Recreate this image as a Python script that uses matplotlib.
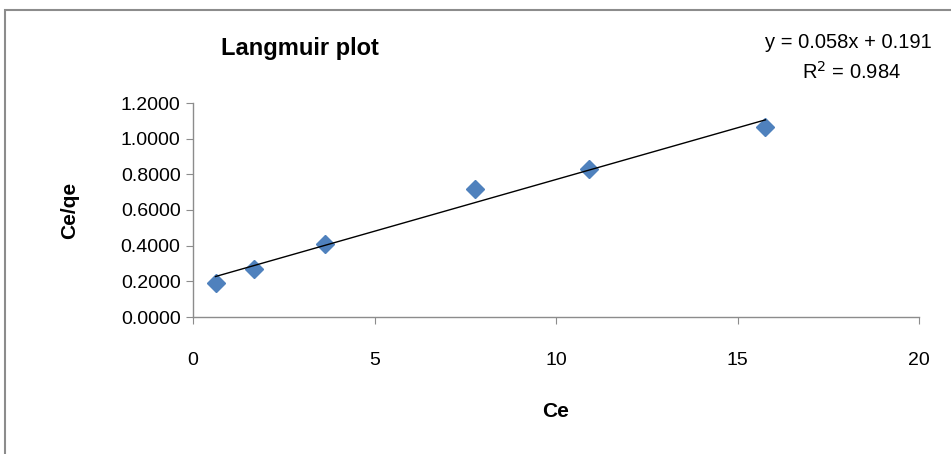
import matplotlib
matplotlib.use("Agg")
import matplotlib.pyplot as plt
from matplotlib.patches import Rectangle
import numpy as np

plt.rcParams['font.family'] = ['Liberation Sans', 'DejaVu Sans']

# Langmuir isotherm data
ce = [0.62, 1.68, 3.65, 7.77, 10.9, 15.77]
ce_qe = [0.189, 0.269, 0.409, 0.720, 0.832, 1.064]

# Linear fit as reported on the chart
slope = 0.058
intercept = 0.191
r2 = 0.984

x_ticks = [0, 5, 10, 15, 20]
y_ticks = [0.0, 0.2, 0.4, 0.6, 0.8, 1.0, 1.2]

fig = plt.figure(figsize=(9.51, 4.54), dpi=100)
fig.patch.set_facecolor('white')

# outer chart frame
fig.add_artist(Rectangle((5 / 951, -0.1), 1.2, 1 - 10 / 454 + 0.1,
                         transform=fig.transFigure, fill=False,
                         edgecolor='#8c8c8c', linewidth=1.5))

ax = fig.add_axes([193 / 951, 1 - 317 / 454, (919 - 193) / 951, (317 - 103) / 454])

ax.plot(ce, ce_qe, linestyle='none', marker='D', markersize=9.5,
        color='#4F81BD', markeredgecolor='#4F81BD', zorder=3)

xf = np.array([min(ce), max(ce)])
ax.plot(xf, slope * xf + intercept, color='black', linewidth=1.0, zorder=4)

ax.set_xlim(0, 20)
ax.set_ylim(0, 1.2)
ax.set_xticks(x_ticks)
ax.set_yticks(y_ticks)
ax.set_xticklabels([str(t) for t in x_ticks])
ax.set_yticklabels([f"{t:.4f}" for t in y_ticks])

for side in ['top', 'right']:
    ax.spines[side].set_visible(False)
for side in ['left', 'bottom']:
    ax.spines[side].set_color('#8c8c8c')
    ax.spines[side].set_linewidth(1.0)

ax.tick_params(axis='both', colors='#8c8c8c', labelcolor='black',
               labelsize=14, length=5, direction='out')
ax.tick_params(axis='x', pad=20)
ax.tick_params(axis='y', pad=4)

ax.set_xlabel('Ce', fontsize=15, fontweight='bold', labelpad=24)
ax.set_ylabel('Ce/qe', fontsize=15, fontweight='bold', labelpad=30)

fig.text(300 / 951, 1 - 48 / 454, 'Langmuir plot', fontsize=17, fontweight='bold',
         ha='center', va='center')
fig.text(848 / 951, 1 - 42 / 454, f'y = {slope}x + {intercept}', fontsize=14.5,
         ha='center', va='center')
fig.text(851 / 951, 1 - 72 / 454, f'R$^2$ = {r2}', fontsize=14.5,
         ha='center', va='center')

fig.savefig('out.png', dpi=100)
